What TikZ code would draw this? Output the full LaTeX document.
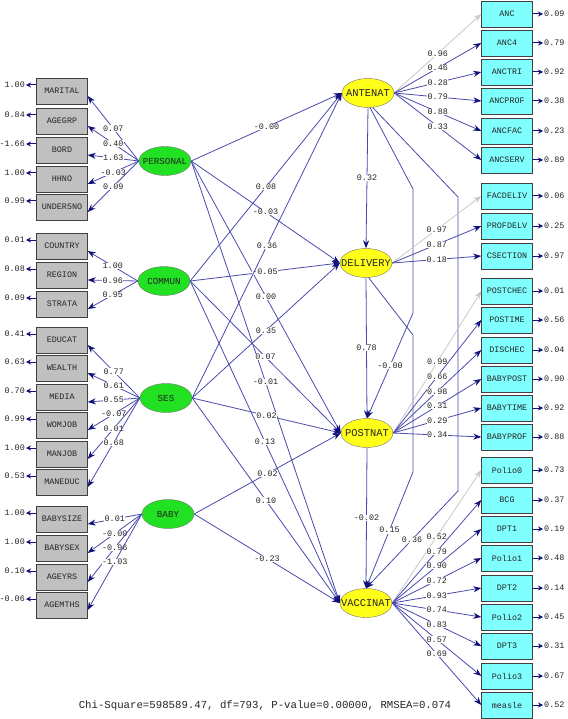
\documentclass[tikz,border=0pt]{standalone}
\usepackage{fontspec}
\usepackage{tikz}
\usetikzlibrary{arrows.meta,shapes.geometric}
\newfontfamily\lisfont{Liberation Mono}
\definecolor{cpath}{HTML}{4A4AAE}
\definecolor{chead}{HTML}{10107A}
\definecolor{cfix}{HTML}{C8C8C8}
\definecolor{cbox}{HTML}{C0C0C0}
\definecolor{ccyan}{HTML}{80FFFF}
\definecolor{cgreen}{HTML}{22E022}
\definecolor{cyellow}{HTML}{FFFF1A}
\definecolor{cink}{HTML}{242424}
\newcommand{\smallmono}{\lisfont\fontsize{8.4}{9}\selectfont}
\tikzset{>={Stealth[length=8pt,width=6pt,color=chead]}}

\begin{document}
\begin{tikzpicture}[x=1pt,y=-1pt,
  lab/.style={font=\smallmono,text=cink,fill=white,inner sep=0.6pt},
  errlab/.style={font=\smallmono,text=cink,inner sep=1pt},
  xbox/.style={draw=black!75,fill=cbox,minimum width=51pt,minimum height=26pt,inner sep=0pt,font=\smallmono,text=cink},
  ybox/.style={xbox,fill=ccyan},
  xlat/.style={ellipse,draw=black!55,fill=cgreen,minimum width=52pt,minimum height=29pt,inner xsep=-7pt,inner ysep=0pt,font=\lisfont\fontsize{9.2}{10}\selectfont,text=cink},
  ylat/.style={xlat,fill=cyellow,font=\lisfont\fontsize{10.4}{11}\selectfont},
  effect/.style={->,draw=cpath,line width=0.8pt},
  fixed/.style={-{Stealth[length=8pt,width=6pt,color=cfix]},draw=cfix,line width=0.8pt},
  err/.style={-{Stealth[length=5pt,width=5pt,color=chead]},draw=chead,line width=1pt}]
\useasboundingbox (0,0) rectangle (567,719);

% ============ latent variables ============
\node[xlat] (PERSONAL) at (165,161) {PERSONAL};
\node[xlat] (COMMUN) at (164,281) {COMMUN};
\node[xlat] (SES) at (166,398) {SES};
\node[xlat] (BABY) at (168,514) {BABY};
\node[ylat] (ANTENAT) at (368,93) {ANTENAT};
\node[ylat] (DELIVERY) at (366,263) {DELIVERY};
\node[ylat] (POSTNAT) at (367,433) {POSTNAT};
\node[ylat] (VACCINAT) at (366,603) {VACCINAT};

% ============ x-indicators (left) ============
\foreach \name/\y/\err/\val/\lat in {MARITAL/91/1.00/0.07/PERSONAL, AGEGRP/121/0.84/0.40/PERSONAL,
    BORD/150/-1.66/1.63/PERSONAL, HHNO/179/1.00/-0.03/PERSONAL, UNDER5NO/207/0.99/0.09/PERSONAL,
    COUNTRY/246/0.01/1.00/COMMUN, REGION/275/0.08/0.96/COMMUN, STRATA/304/0.09/0.95/COMMUN,
    EDUCAT/340/0.41/0.77/SES, WEALTH/368/0.63/0.61/SES, MEDIA/397/0.70/0.55/SES,
    WOMJOB/425/0.99/-0.07/SES, MANJOB/454/1.00/0.01/SES, MANEDUC/482/0.53/0.68/SES,
    BABYSIZE/519/1.00/0.01/BABY, BABYSEX/548/1.00/-0.00/BABY, AGEYRS/577/0.10/-0.96/BABY,
    AGEMTHS/605/-0.06/-1.03/BABY} {
  \node[xbox] (\name) at (62,\y) {\name};
  \node[errlab,anchor=east] (e\name) at (26,\y-6) {\err};
  \draw[err] ([yshift=6pt]\name.west) -- (e\name);
  \draw[effect] (\lat.west) -- node[lab]{\val} ([yshift=-5pt]\name.east);
}

% ============ structural paths ============
\foreach \src/\dst/\val in {PERSONAL/ANTENAT/-0.00, PERSONAL/DELIVERY/-0.03, PERSONAL/POSTNAT/0.00,
    PERSONAL/VACCINAT/-0.01, COMMUN/ANTENAT/0.08, COMMUN/DELIVERY/-0.05, COMMUN/POSTNAT/0.07,
    COMMUN/VACCINAT/0.13, SES/ANTENAT/0.36, SES/DELIVERY/0.35, SES/POSTNAT/0.02, SES/VACCINAT/0.10,
    BABY/POSTNAT/0.02, BABY/VACCINAT/-0.23}
  \draw[effect] (\src.east) -- node[lab]{\val} (\dst.west);

\draw[effect] (ANTENAT.south) -- node[lab]{0.32} (DELIVERY.north);
\draw[effect] (DELIVERY.south) -- node[lab]{0.78} (POSTNAT.north);
\draw[effect] (POSTNAT.south) -- node[lab]{-0.02} (VACCINAT.north);

\coordinate (ap1) at (413,189);
\coordinate (ap2) at (413,313);
\coordinate (av1) at (458,197);
\coordinate (av2) at (458,491);
\coordinate (dv1) at (413,335);
\coordinate (dv2) at (413,472);
\draw[effect] (ANTENAT.-82) -- (ap1) -- (ap2) -- node[lab]{-0.00} (POSTNAT.north);
\draw[effect] (ANTENAT.-72) -- (av1) -- (av2) -- node[lab]{0.36} (VACCINAT.north);
\draw[effect] (DELIVERY.-80) -- (dv1) -- (dv2) -- node[lab]{0.15} (VACCINAT.north);

% ============ y-indicators (right) ============
\foreach \name/\y/\err/\val/\lat/\sty in {ANC/14/0.09/0.96/ANTENAT/fixed, ANC4/43/0.79/0.46/ANTENAT/effect,
    ANCTRI/72/0.92/0.28/ANTENAT/effect, ANCPROF/101/0.38/0.79/ANTENAT/effect,
    ANCFAC/131/0.23/0.88/ANTENAT/effect, ANCSERV/160/0.89/0.33/ANTENAT/effect,
    FACDELIV/196/0.06/0.97/DELIVERY/fixed, PROFDELV/226/0.25/0.87/DELIVERY/effect,
    CSECTION/256/0.97/0.18/DELIVERY/effect,
    POSTCHEC/291/0.01/0.99/POSTNAT/fixed, POSTIME/320/0.56/0.66/POSTNAT/effect,
    DISCHEC/350/0.04/0.98/POSTNAT/effect, BABYPOST/379/0.90/0.31/POSTNAT/effect,
    BABYTIME/408/0.92/0.29/POSTNAT/effect, BABYPROF/437/0.88/0.34/POSTNAT/effect,
    Polio0/470/0.73/0.52/VACCINAT/fixed, BCG/500/0.37/0.79/VACCINAT/effect,
    DPT1/529/0.19/0.90/VACCINAT/effect, Polio1/558/0.48/0.72/VACCINAT/effect,
    DPT2/588/0.14/0.93/VACCINAT/effect, Polio2/617/0.45/0.74/VACCINAT/effect,
    DPT3/646/0.31/0.83/VACCINAT/effect, Polio3/676/0.67/0.57/VACCINAT/effect,
    measle/705/0.52/0.69/VACCINAT/effect} {
  \node[ybox] (\name) at (507,\y) {\name};
  \node[errlab,anchor=west] (e\name) at (543,\y) {\err};
  \draw[err] (\name.east) -- (e\name);
  \draw[\sty] (\lat.east) -- node[lab]{\val} (\name.west);
}

\node[font=\lisfont\fontsize{10.7}{12}\selectfont,text=cink] (fit) at (265,706)
  {Chi-Square=598589.47, df=793, P-value=0.00000, RMSEA=0.074};

\end{tikzpicture}
\end{document}
